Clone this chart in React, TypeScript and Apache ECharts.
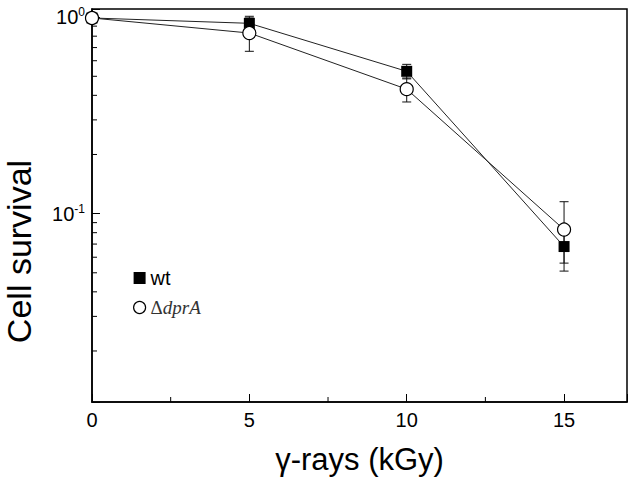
import React, { useEffect, useRef } from "react";
import * as echarts from "echarts";

const doses = [0, 5, 10, 15];
const wtSurvival = [0.99, 0.93, 0.53, 0.068];
const wtError = [0.02, 0.08, 0.045, 0.012];
const dprASurvival = [0.99, 0.83, 0.43, 0.083];
const dprAError = [0.02, 0.16, 0.06, 0.032];
const yMinorTicks = [0.02, 0.03, 0.04, 0.05, 0.06, 0.07, 0.08, 0.09, 0.2, 0.3, 0.4, 0.5, 0.6, 0.7, 0.8, 0.9];
const xMinorTicks = [2.5, 7.5, 12.5];
const xTickLabels = ["0", "5", "10", "15"];
const seriesNames = ["wt", "ΔdprA"];

const FONT = "Liberation Sans, Arial, sans-serif";

function errorBarSeries(name: string, values: number[], errors: number[]) {
  return {
    type: "custom",
    name: name + "-err",
    z: 1,
    clip: false,
    silent: true,
    encode: { x: 0, y: [1, 2] },
    data: doses.map((d, i) => [d, values[i] - errors[i], values[i] + errors[i]]),
    renderItem: (params: any, api: any) => {
      const x = api.value(0);
      const lo = api.coord([x, api.value(1)]);
      const hi = api.coord([x, api.value(2)]);
      const w = 4.5;
      const st = { stroke: "#111", lineWidth: 1 };
      return {
        type: "group",
        children: [
          { type: "line", shape: { x1: lo[0], y1: lo[1], x2: hi[0], y2: hi[1] }, style: st },
          { type: "line", shape: { x1: lo[0] - w, y1: lo[1], x2: lo[0] + w, y2: lo[1] }, style: st },
          { type: "line", shape: { x1: hi[0] - w, y1: hi[1], x2: hi[0] + w, y2: hi[1] }, style: st },
        ],
      };
    },
  };
}

export default function App() {
  const ref = useRef<HTMLDivElement>(null);
  useEffect(() => {
    if (!ref.current) return;
    const chart = echarts.init(ref.current, undefined, { renderer: "svg" });
    const option: any = {
      animation: false,
      backgroundColor: "#fff",
      grid: {
        left: 92,
        top: 9,
        right: 3,
        bottom: 83,
        containLabel: false,
        outerBoundsMode: "none",
        show: true,
        borderColor: "#000",
        borderWidth: 1.5,
        backgroundColor: "transparent",
      },
      legend: {
        orient: "vertical",
        left: 133,
        top: 268,
        padding: 0,
        itemWidth: 12,
        itemHeight: 12,
        itemGap: 10,
        selectedMode: false,
        data: [
          { name: seriesNames[0], icon: "rect", itemStyle: { color: "#000" } },
          {
            name: seriesNames[1],
            icon: "circle",
            itemStyle: { color: "#fff", borderColor: "#000", borderWidth: 1.2 },
          },
        ],
        formatter: (name: string) => (name === "ΔdprA" ? "{a|Δ}{b|dprA}" : "{w|" + name + "}"),
        textStyle: {
          color: "#000",
          rich: {
            w: { fontFamily: FONT, fontSize: 20, color: "#000" },
            a: { fontFamily: "Liberation Serif, serif", fontSize: 19, color: "#333" },
            b: { fontFamily: "Liberation Serif, serif", fontStyle: "italic", fontSize: 19, color: "#333" },
          },
        },
      },
      xAxis: {
        type: "value",
        min: 0,
        max: 17,
        interval: 5,
        name: "γ-rays (kGy)",
        nameLocation: "middle",
        nameGap: 42,
        nameTextStyle: { fontFamily: FONT, fontSize: 31, color: "#000" },
        axisLine: { lineStyle: { color: "#000", width: 1.5 } },
        axisTick: { inside: true, length: 8, lineStyle: { color: "#000", width: 1 } },
        axisLabel: {
          margin: 8,
          fontFamily: FONT,
          fontSize: 20,
          color: "#000",
          formatter: (v: number) => {
            const i = doses.indexOf(v);
            return i >= 0 ? xTickLabels[i] : "";
          },
        },
        splitLine: { show: false },
      },
      yAxis: {
        type: "log",
        logBase: 10,
        min: 0.011,
        max: 1.1,
        name: "Cell survival",
        nameLocation: "middle",
        nameGap: 56,
        nameRotate: 90,
        nameTextStyle: { fontFamily: FONT, fontSize: 34, color: "#000", padding: [0, 92, 0, 0] },
        axisLine: { lineStyle: { color: "#000", width: 1.5 } },
        axisTick: { inside: true, length: 8, lineStyle: { color: "#000", width: 1 } },
        axisLabel: {
          margin: 7,
          color: "#000",
          formatter: (v: number) => {
            const l = Math.log10(v);
            const e = Math.round(l);
            if (Math.abs(l - e) > 1e-6) return "";
            return "{b|10}{s|" + e + "}";
          },
          rich: {
            b: { fontFamily: FONT, fontSize: 20, color: "#000" },
            s: { fontFamily: FONT, fontSize: 12, color: "#000", padding: [0, 0, 10, 0] },
          },
        },
        splitLine: { show: false },
      },
      series: [
        errorBarSeries(seriesNames[0], wtSurvival, wtError),
        errorBarSeries(seriesNames[1], dprASurvival, dprAError),
        {
          type: "custom",
          name: "yMinor",
          z: 1,
          clip: false,
          silent: true,
          encode: { x: 0, y: 1 },
          data: yMinorTicks.map((v) => [0, v]),
          renderItem: (params: any, api: any) => {
            const p = api.coord([api.value(0), api.value(1)]);
            return {
              type: "line",
              shape: { x1: p[0], y1: p[1], x2: p[0] + 5, y2: p[1] },
              style: { stroke: "#000", lineWidth: 1 },
            };
          },
        },
        {
          type: "custom",
          name: "xMinor",
          z: 1,
          clip: false,
          silent: true,
          encode: { x: 0, y: 1 },
          data: xMinorTicks.map((v) => [v, 0.011]),
          renderItem: (params: any, api: any) => {
            const p = api.coord([api.value(0), api.value(1)]);
            return {
              type: "line",
              shape: { x1: p[0], y1: p[1], x2: p[0], y2: p[1] - 5 },
              style: { stroke: "#000", lineWidth: 1 },
            };
          },
        },
        {
          type: "line",
          name: seriesNames[0],
          z: 3,
          data: doses.map((d, i) => [d, wtSurvival[i]]),
          symbol: "rect",
          symbolSize: 11,
          itemStyle: { color: "#000" },
          lineStyle: { color: "#222", width: 1 },
        },
        {
          type: "line",
          name: seriesNames[1],
          z: 4,
          data: doses.map((d, i) => [d, dprASurvival[i]]),
          symbol: "circle",
          symbolSize: 13,
          itemStyle: { color: "#fff", borderColor: "#000", borderWidth: 1.2 },
          lineStyle: { color: "#222", width: 1 },
        },
      ],
    };
    chart.setOption(option);
    return () => chart.dispose();
  }, []);
  return (
    <div
      ref={ref}
      style={{ position: "fixed", left: 0, top: 0, width: 630, height: 485, background: "#fff" }}
    />
  );
}
